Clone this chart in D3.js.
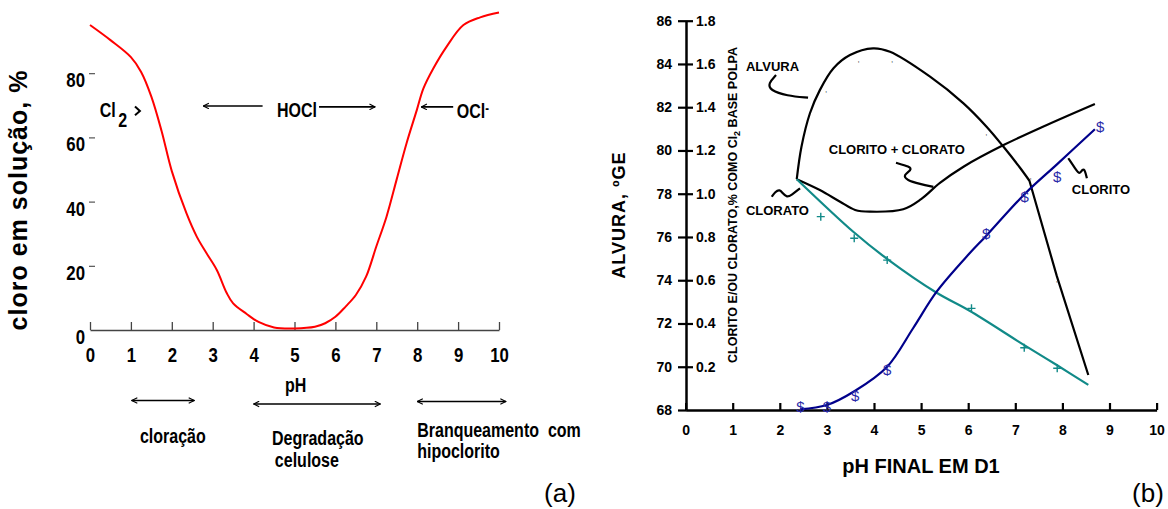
<!DOCTYPE html>
<html>
<head>
<meta charset="utf-8">
<script src="https://cdn.jsdelivr.net/npm/d3@7"></script>
<style>
body { margin: 0; background: #fff; }
.nar { font-family: "Liberation Sans", Arial, sans-serif; font-weight: bold; }
.ari { font-family: "Liberation Sans", Arial, sans-serif; font-weight: bold; }
</style>
</head>
<body>
<svg id="chart" width="1168" height="509"></svg>
<script>
// ---- (a) cloro em solução vs pH ----
var phA    = [0, 0.5, 1, 1.25, 1.5, 1.75, 2, 2.36, 2.61, 2.85, 3.1, 3.34, 3.5, 3.83, 4.12, 4.5, 5, 5.5, 5.75, 6, 6.25, 6.5, 6.75, 7, 7.25, 7.5, 7.74, 7.99, 8.15, 8.39, 8.72, 9.13, 9.54, 10];
var cloroA = [95, 90.3, 85, 80.4, 72.7, 62, 49.5, 36.3, 29.1, 23.9, 18.7, 11.6, 8.3, 5.0, 2.5, 0.8, 0.5, 1, 2.1, 4.1, 7.3, 10.9, 16.6, 26, 35.3, 47, 58.2, 68.5, 75.2, 81.4, 88.3, 95.0, 97.4, 98.9];
var xTicksA = [0, 1, 2, 3, 4, 5, 6, 7, 8, 9, 10];
var yTicksA = [0, 20, 40, 60, 80];

// ---- (b) alvura and clorito/clorato vs pH final ----
var alvPh  = [2.36, 2.46, 2.64, 2.85, 3.14, 3.49, 3.98, 4.34, 5.19, 5.9, 6.39, 6.75, 7.1, 7.3];
var alvVal = [78.67, 80.17, 81.72, 82.79, 83.8, 84.41, 84.72, 84.56, 83.41, 82.18, 81.1, 80.17, 79.2, 78.6];
var alvLowPh  = [7.3, 7.88, 8.55];
var alvLowVal = [78.6, 74.2, 69.62];
var alvMkPh  = [2.96, 3.65, 4.36, 6.36, 7.3, 7.86];
var alvMkVal = [82.8, 84.18, 84.18, 80.79, 78.76, 74.0];

var totPh  = [2.36, 2.85, 3.28, 3.6, 3.92, 4.62, 5.0, 5.4, 5.9, 6.75, 7.67, 8.69];
var totVal = [1.067, 1.017, 0.963, 0.925, 0.917, 0.928, 0.975, 1.05, 1.125, 1.225, 1.318, 1.415];

var clatPh  = [2.36, 3.56, 4.27, 5.33, 6.02, 7.19, 7.88, 8.55];
var clatVal = [1.067, 0.824, 0.70, 0.542, 0.46, 0.30, 0.208, 0.116];
var clatMkPh  = [2.87, 3.58, 4.28, 6.07, 7.19, 7.89];
var clatMkVal = [0.894, 0.794, 0.693, 0.47, 0.288, 0.193];

var clitPh  = [2.43, 3.0, 3.6, 4.28, 4.83, 5.33, 6.02, 6.38, 7.2, 7.89, 8.69];
var clitVal = [0.003, 0.023, 0.089, 0.2, 0.378, 0.547, 0.722, 0.805, 0.999, 1.137, 1.298];
var clitMkPh  = [2.44, 3.0, 3.6, 4.28, 6.38, 7.2, 7.89, 8.8];
var clitMkVal = [0.015, 0.012, 0.065, 0.185, 0.814, 0.986, 1.076, 1.307];

var xTicksB = [0, 1, 2, 3, 4, 5, 6, 7, 8, 9, 10];
var yTicksB = [68, 70, 72, 74, 76, 78, 80, 82, 84, 86];
var secTicks = [0.2, 0.4, 0.6, 0.8, 1.0, 1.2, 1.4, 1.6, 1.8];

var svg = d3.select("#chart");
var zip = (a, b) => a.map((v, i) => [v, b[i]]);
var NARROW = 0.8;   // horizontal squeeze for the condensed lettering of panel (a)

// arrowhead (open chevron)
svg.append("defs").append("marker")
    .attr("id", "arr").attr("viewBox", "0 0 10 10").attr("refX", 9).attr("refY", 5)
    .attr("markerWidth", 7).attr("markerHeight", 7).attr("orient", "auto-start-reverse")
    .attr("markerUnits", "userSpaceOnUse")
    .append("path").attr("d", "M1,1L9,5L1,9").attr("fill", "none").attr("stroke", "#000").attr("stroke-width", 1.6);

// ================= (a) =================
var xA = d3.scaleLinear().domain([0, 10]).range([90, 499]);
var yA = d3.scaleLinear().domain([0, 100]).range([330, 9]);

var gxA = svg.append("g").attr("transform", "translate(0,330)")
    .call(d3.axisBottom(xA).tickValues(xTicksA).tickSize(-8).tickSizeOuter(0).tickFormat(d3.format("d")));
gxA.select(".domain").attr("stroke", "#444").attr("stroke-width", 1.6);
gxA.selectAll(".tick line").attr("stroke", "#444").attr("stroke-width", 1.3);
gxA.selectAll(".tick text").attr("class", "nar").attr("font-size", 21).attr("y", 32).attr("dy", null)
    .attr("fill", "#000").attr("transform", `scale(${NARROW},1)`);

var gyA = svg.append("g").attr("transform", "translate(95,0)")
    .call(d3.axisLeft(yA).tickValues(yTicksA).tickSize(6).tickPadding(10));
gyA.select(".domain").remove();
gyA.selectAll(".tick line").attr("stroke", "#444").attr("stroke-width", 1.1).filter(d => d == 0).remove();
gyA.selectAll(".tick text").attr("class", "nar").attr("font-size", 21).attr("dy", 13.5).attr("fill", "#000")
    .attr("x", -10 / NARROW).attr("transform", `scale(${NARROW},1)`);

svg.append("path")
    .attr("d", d3.line().x(d => xA(d[0])).y(d => yA(d[1])).curve(d3.curveCatmullRom.alpha(0.5))(zip(phA, cloroA)))
    .attr("fill", "none").attr("stroke", "#ff0000").attr("stroke-width", 2);

svg.append("text").attr("class", "ari").attr("font-size", 25).attr("letter-spacing", 1)
    .attr("text-anchor", "middle").attr("transform", "translate(27,200) rotate(-90)")
    .text("cloro em solução, %");

// species annotations
var ann = svg.append("g").attr("class", "nar").attr("font-size", 20);
function ntext(x, y, s, anchor) {
    return ann.append("text").attr("transform", `translate(${x},${y}) scale(${NARROW},1)`)
        .attr("text-anchor", anchor || "start").attr("xml:space", "preserve").text(s);
}
var cl2 = ntext(xA(0.24), yA(66.4), "Cl");
cl2.append("tspan").attr("dx", 3).attr("dy", 10).text("2");
ann.append("path").attr("d", `M${xA(1.1)},${yA(69.6)}L${xA(1.22)},${yA(68.2)}L${xA(1.1)},${yA(66.9)}`)
    .attr("fill", "none").attr("stroke", "#000").attr("stroke-width", 2);

function arrow(g, x1, y1, x2, y2, both) {
    var p = g.append("line").attr("x1", x1).attr("y1", y1).attr("x2", x2).attr("y2", y2)
        .attr("stroke", "#000").attr("stroke-width", 1.6).attr("marker-end", "url(#arr)");
    if (both) p.attr("marker-start", "url(#arr)");
}
arrow(ann, xA(4.22), yA(69.8), xA(2.77), yA(69.8));
ntext(xA(4.57), yA(66.2), "HOCl");
arrow(ann, xA(5.6), yA(69.5), xA(6.97), yA(69.5));
arrow(ann, xA(8.88), yA(69.5), xA(8.1), yA(69.5));
var ocl = ntext(xA(8.97), yA(66.0), "OCl");
ocl.append("tspan").attr("font-size", 14).attr("dy", -5).text("-");

// pH regions
arrow(ann, xA(1.02), 400.5, xA(2.55), 400.5, true);
arrow(ann, xA(4.0), 404, xA(7.1), 404, true);
arrow(ann, xA(8.0), 401.5, xA(10.17), 401.5, true);
ntext(xA(5.03), 392, "pH", "middle");
ntext(xA(1.22), 443, "cloração");
ntext(xA(4.45), 445, "Degradação");
ntext(xA(4.52), 467, "celulose");
ntext(xA(8.0), 437, "Branqueamento  com");
ntext(xA(8.0), 458, "hipoclorito");

svg.append("text").attr("x", 560).attr("y", 502).attr("text-anchor", "middle")
    .attr("font-family", "Liberation Sans, Arial, sans-serif").attr("font-size", 26).text("(a)");

// ================= (b) =================
var xB = d3.scaleLinear().domain([0, 10]).range([685.6, 1156.6]);
var yB = d3.scaleLinear().domain([68, 86]).range([410, 20.7]);
var yS = d3.scaleLinear().domain([0, 1.8]).range([410, 20.7]);

var gxB = svg.append("g").attr("transform", "translate(0,410)")
    .call(d3.axisBottom(xB).tickValues(xTicksB).tickSize(-7).tickSizeOuter(0).tickFormat(d3.format("d")));
gxB.select(".domain").attr("stroke-width", 2.5);
gxB.selectAll(".tick line").attr("stroke-width", 2.2);
gxB.selectAll(".tick text").attr("class", "ari").attr("font-size", 14).attr("y", 25).attr("dy", null)
    .filter(d => d == 0).attr("font-weight", "normal");

var gyB = svg.append("g").attr("transform", "translate(686,0)")
    .call(d3.axisLeft(yB).tickValues(yTicksB).tickSize(8).tickPadding(6).tickSizeOuter(0));
gyB.select(".domain").attr("stroke-width", 2.5);
gyB.selectAll(".tick line").attr("stroke-width", 2.2);
gyB.selectAll(".tick text").attr("class", "ari").attr("font-size", 14);

var gyS = svg.append("g").attr("transform", "translate(686,0)")
    .call(d3.axisRight(yS).tickValues(secTicks).tickSize(7).tickPadding(3).tickFormat(d3.format(".1f")));
gyS.select(".domain").remove();
gyS.selectAll(".tick line").attr("stroke-width", 2.2);
gyS.selectAll(".tick text").attr("class", "ari").attr("font-size", 14);

var smooth = d3.curveCatmullRom.alpha(0.5);
var lineAlv = d3.line().x(d => xB(d[0])).y(d => yB(d[1])).curve(smooth);
var lineAlvLow = d3.line().x(d => xB(d[0])).y(d => yB(d[1]));
var lineSec = d3.line().x(d => xB(d[0])).y(d => yS(d[1])).curve(smooth);

// alvura: rounded top, then a straight drop after the corner at pH ~7.3
svg.append("path")
    .attr("d", lineAlv(zip(alvPh, alvVal)) + lineAlvLow(zip(alvLowPh, alvLowVal)).replace(/^M/, "L"))
    .attr("fill", "none").attr("stroke", "#000").attr("stroke-width", 2.2).attr("stroke-linejoin", "round");
svg.append("path").attr("d", lineSec(zip(totPh, totVal)))
    .attr("fill", "none").attr("stroke", "#000").attr("stroke-width", 2.2);
svg.append("path").attr("d", lineSec(zip(clatPh, clatVal)))
    .attr("fill", "none").attr("stroke", "#118a88").attr("stroke-width", 2.2);
svg.append("path").attr("d", lineSec(zip(clitPh, clitVal)))
    .attr("fill", "none").attr("stroke", "#00008b").attr("stroke-width", 2.2);

// markers
svg.append("g").selectAll("text").data(zip(alvMkPh, alvMkVal)).join("text")
    .attr("x", d => xB(d[0])).attr("y", d => yB(d[1]) + 2)
    .attr("font-family", "Liberation Sans, Arial, sans-serif").attr("font-size", 8).attr("fill", "#333").text(",");
svg.append("g").selectAll("path").data(zip(clatMkPh, clatMkVal)).join("path")
    .attr("transform", d => `translate(${xB(d[0])},${yS(d[1])})`)
    .attr("d", "M-4,0H4M0,-4V4").attr("stroke", "#118a88").attr("stroke-width", 1.4);
svg.append("g").selectAll("text").data(zip(clitMkPh, clitMkVal)).join("text")
    .attr("x", d => xB(d[0])).attr("y", d => yS(d[1]) + 5)
    .attr("text-anchor", "middle").attr("font-family", "Liberation Sans, Arial, sans-serif")
    .attr("font-size", 15).attr("fill", "#2a2aa8").text("$");

// series labels and pointer squiggles
var pointers = [
    [[1.92, 83.49], [1.756, 83.1], [1.79, 82.79], [2.15, 82.52], [2.6, 82.44]],
    [[1.83, 77.86], [1.9, 78.09], [2.0, 78.2], [2.06, 78.02], [2.15, 77.83], [2.25, 77.94], [2.43, 78.25]],
    [[4.467, 79.43], [4.764, 79.25], [4.8, 79.1], [4.62, 78.86], [4.69, 78.63], [4.98, 78.45], [5.26, 78.32]],
    [[8.125, 79.64], [8.27, 79.17], [8.37, 78.86], [8.43, 79.17], [8.48, 79.08], [8.52, 78.71]]
];
svg.append("g").selectAll("path").data(pointers).join("path")
    .attr("d", d => d3.line().x(p => xB(p[0])).y(p => yB(p[1])).curve(d3.curveBasis)(d))
    .attr("fill", "none").attr("stroke", "#000").attr("stroke-width", 2.2);

var lab = svg.append("g").attr("class", "ari").attr("font-size", 13);
lab.append("text").attr("x", xB(1.28)).attr("y", yB(83.67)).text("ALVURA");
lab.append("text").attr("x", xB(1.28)).attr("y", yB(77.0)).text("CLORATO");
lab.append("text").attr("x", xB(3.04)).attr("y", yB(79.83)).text("CLORITO + CLORATO");
lab.append("text").attr("x", xB(8.2)).attr("y", yB(77.99)).text("CLORITO");

// axis titles
svg.append("text").attr("class", "ari").attr("font-size", 18).attr("letter-spacing", 1)
    .attr("text-anchor", "middle").attr("transform", "translate(625,215) rotate(-90)")
    .text("ALVURA, ºGE");
var sec = svg.append("text").attr("class", "ari").attr("font-size", 12.5)
    .attr("text-anchor", "middle").attr("transform", "translate(737,205) rotate(-90)");
sec.append("tspan").text("CLORITO E/OU CLORATO,% COMO Cl");
sec.append("tspan").attr("font-size", 9).attr("dy", 3).text("2");
sec.append("tspan").attr("dy", -3).text(" BASE POLPA");

svg.append("text").attr("class", "ari").attr("font-size", 20).attr("text-anchor", "middle")
    .attr("x", 921).attr("y", 473).text("pH FINAL EM D1");
svg.append("text").attr("x", 1148).attr("y", 502).attr("text-anchor", "middle")
    .attr("font-family", "Liberation Sans, Arial, sans-serif").attr("font-size", 26).text("(b)");
</script>
</body>
</html>
